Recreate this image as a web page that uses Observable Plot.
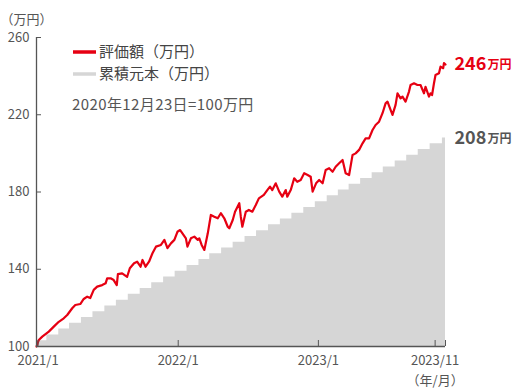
<!DOCTYPE html>
<html>
<head>
<meta charset="utf-8">
<script src="https://cdn.jsdelivr.net/npm/d3@7"></script>
<script src="https://cdn.jsdelivr.net/npm/@observablehq/plot@0.6"></script>
<style>
  html, body { margin: 0; padding: 0; background: #fff; }
  #chart svg { display: block; }
</style>
</head>
<body>
<div id="chart"></div>
<script>
// 評価額 (万円)
const valueDates = [
  "2020-12-28","2021-01-03","2021-01-12","2021-01-29","2021-02-11","2021-02-24","2021-03-09","2021-03-18",
  "2021-03-31","2021-04-08","2021-04-21","2021-04-30","2021-05-09","2021-05-17","2021-05-26","2021-06-04",
  "2021-06-17","2021-06-26","2021-06-30","2021-07-09","2021-07-17","2021-07-25","2021-07-28","2021-08-08",
  "2021-08-21","2021-08-28","2021-09-08","2021-09-16","2021-09-25","2021-09-30","2021-10-08","2021-10-17",
  "2021-10-26","2021-11-04","2021-11-17","2021-11-26","2021-12-04","2021-12-13","2021-12-22","2021-12-30",
  "2022-01-06","2022-01-12","2022-01-21","2022-01-25","2022-02-03","2022-02-12","2022-02-21","2022-02-25",
  "2022-03-03","2022-03-10","2022-03-19","2022-03-27","2022-04-05","2022-04-14","2022-04-22","2022-05-01",
  "2022-05-10","2022-05-14","2022-05-23","2022-05-29","2022-06-09","2022-06-13","2022-06-17","2022-06-26",
  "2022-07-04","2022-07-13","2022-07-22","2022-07-30","2022-08-12","2022-08-21","2022-08-28","2022-09-03",
  "2022-09-12","2022-09-21","2022-09-29","2022-10-08","2022-10-12","2022-10-21","2022-10-30","2022-11-07",
  "2022-11-16","2022-11-25","2022-12-04","2022-12-12","2022-12-17","2022-12-26","2023-01-03","2023-01-12",
  "2023-01-20","2023-01-29","2023-02-07","2023-02-15","2023-02-24","2023-03-05","2023-03-13","2023-03-22",
  "2023-03-31","2023-04-08","2023-04-17","2023-04-26","2023-05-04","2023-05-13","2023-05-22","2023-05-30",
  "2023-06-08","2023-06-17","2023-06-25","2023-06-30","2023-07-08","2023-07-13","2023-07-21","2023-07-26",
  "2023-08-03","2023-08-08","2023-08-16","2023-08-25","2023-08-29","2023-09-07","2023-09-16","2023-09-24",
  "2023-10-03","2023-10-07","2023-10-16","2023-10-20","2023-10-24","2023-10-29","2023-11-02","2023-11-11",
  "2023-11-15","2023-11-22","2023-11-24","2023-11-28"
];
const values = [
  100,103.4,105.1,107.7,110.3,112.8,114.6,116.3,
  119.8,121.5,122.0,124.6,125.8,125.1,129.3,131.0,
  131.8,132.7,135.3,135.3,134.4,131.8,137.5,137.9,
  136.1,140.5,143.1,143.9,141.3,144.8,141.3,143.9,
  148.3,151.7,152.6,155.2,150.9,153.4,155.2,159.4,
  160.3,158.6,156.0,151.7,156.0,156.9,155.2,156.0,
  152.6,150.0,158.6,168.1,167.2,166.4,169.0,166.4,
  162.0,161.2,165.5,169.8,174.2,167.2,162.0,169.8,
  170.7,169.8,173.3,176.7,178.5,181.0,182.8,181.0,
  184.5,180.2,177.6,181.0,177.6,181.0,187.1,185.3,
  186.2,189.7,188.8,187.9,180.2,184.5,186.2,184.5,
  191.4,192.3,190.5,193.1,194.9,196.6,189.7,188.8,
  199.2,200.0,201.8,205.2,207.8,207.8,212.1,214.7,
  216.4,220.8,225.9,226.8,222.5,219.9,225.1,231.1,
  228.5,229.4,226.8,232.0,235.4,236.3,235.4,235.4,
  231.1,234.5,229.4,231.1,230.2,236.3,240.6,241.5,
  244.9,244.1,246.7,246
];

// 累積元本 (万円) — monthly steps
const principalDates = [
  "2020-12-28","2021-01-24","2021-02-24","2021-03-24","2021-04-24","2021-05-24","2021-06-24","2021-07-24",
  "2021-08-24","2021-09-24","2021-10-24","2021-11-24","2021-12-24","2022-01-24","2022-02-24","2022-03-24",
  "2022-04-24","2022-05-24","2022-06-24","2022-07-24","2022-08-24","2022-09-24","2022-10-24","2022-11-24",
  "2022-12-24","2023-01-24","2023-02-22","2023-03-22","2023-04-21","2023-05-21","2023-06-19","2023-07-20",
  "2023-08-19","2023-09-18","2023-10-19","2023-11-20","2023-11-28"
];
const principal = [
  103,106,109,112,115,118,121,124,
  127,130,133,136,139,142,145,148,
  151,154,157,160,163,166,169,172,
  175,178,181,184,187,190,193,196,
  199,202,205,208,208
];

// axis ticks and labels
const yTicks = [100, 140, 180, 220, 260];
const xTickDates = ["2021-01-01", "2022-01-01", "2023-01-01", "2023-11-01", "2023-11-28"];
const xTickLabels = ["2021/1", "2022/1", "2023/1", "2023/11", ""];

const legendLabels = ["評価額（万円）", "累積元本（万円）"];
const noteText = "2020年12月23日=100万円";
const yUnit = "（万円）";
const xUnit = "（年/月）";
const endLabels = [
  {value: 246, num: "246", color: "#e60012"},
  {value: 208, num: "208", color: "#555555"}
];

const RED = "#e60012";
const GRAY = "#d6d6d6";
const INK = "#555555";
const FONT = "'Noto Sans CJK JP', 'Noto Sans', sans-serif";

const parse = d3.utcParse("%Y-%m-%d");
const valueData = valueDates.map((d, i) => ({date: parse(d), v: values[i]}));
const principalData = principalDates.map((d, i) => ({date: parse(d), v: principal[i]}));
const xStart = parse("2020-12-28"), xEnd = parse("2023-11-28");
const tickDates = xTickDates.map(parse);
const labelFor = new Map(tickDates.map((d, i) => [+d, xTickLabels[i]]));
const lastDate = xEnd;

const chart = Plot.plot({
  width: 520,
  height: 392,
  marginLeft: 36,
  marginRight: 75,
  marginTop: 37,
  marginBottom: 46,
  style: {fontFamily: FONT, fontSize: "13px", color: INK, background: "#fff"},
  x: {type: "utc", domain: [xStart, xEnd]},
  y: {domain: [100, 260]},
  marks: [
    Plot.areaY(principalData, {x: "date", y1: 100, y2: "v", curve: "step-after", fill: GRAY}),
    Plot.lineY(valueData, {x: "date", y: "v", stroke: RED, strokeWidth: 2.2, strokeLinejoin: "round"}),
    Plot.ruleY([100], {stroke: INK, strokeWidth: 1.3}),
    Plot.ruleX([xStart], {stroke: INK, strokeWidth: 1.3}),
    Plot.axisY({ticks: yTicks, tickSize: -5, tickPadding: 12, stroke: INK, fill: INK, fontSize: 13, tickFormat: d => String(d)}),
    Plot.axisX({ticks: tickDates, tickSize: -6, tickPadding: 15, stroke: INK, fill: INK, fontSize: 13, tickFormat: d => labelFor.get(+d) ?? ""}),
    Plot.text(endLabels, {x: () => lastDate, y: "value", text: "num", fill: "color", dx: 9, textAnchor: "start", fontSize: 18, fontWeight: "bold"}),
    Plot.text(endLabels, {x: () => lastDate, y: "value", text: () => "万円", fill: "color", dx: 42, dy: 1, textAnchor: "start", fontSize: 12, fontWeight: "bold"}),
    Plot.text([xUnit], {x: () => parse("2023-11-01"), y: () => 100, text: d => d, dy: 34, fill: INK, fontSize: 13}),
    Plot.text([yUnit], {frameAnchor: "top-left", text: d => d, dx: -36, dy: -23, textAnchor: "start", fill: INK, fontSize: 13})
  ]
});

document.getElementById("chart").appendChild(chart);

// legend + note inside plot area
const svg = d3.select(chart);
const lg = svg.append("g").attr("font-family", FONT).attr("text-anchor", "start");
const legendColors = [RED, GRAY];
const legendY = [52, 74];
legendLabels.forEach((t, i) => {
  lg.append("line").attr("x1", 73).attr("x2", 96).attr("y1", legendY[i]).attr("y2", legendY[i])
    .attr("stroke", legendColors[i]).attr("stroke-width", 3.5);
  lg.append("text").attr("x", 99).attr("y", legendY[i]).attr("dy", "0.36em")
    .attr("text-anchor", "start").attr("font-size", 15).attr("fill", "#444").text(t);
});
lg.append("text").attr("x", 72).attr("y", 104.5).attr("dy", "0.36em")
  .attr("text-anchor", "start").attr("font-size", 15).attr("letter-spacing", "0.4px")
  .attr("fill", INK).text(noteText);
</script>
</body>
</html>
